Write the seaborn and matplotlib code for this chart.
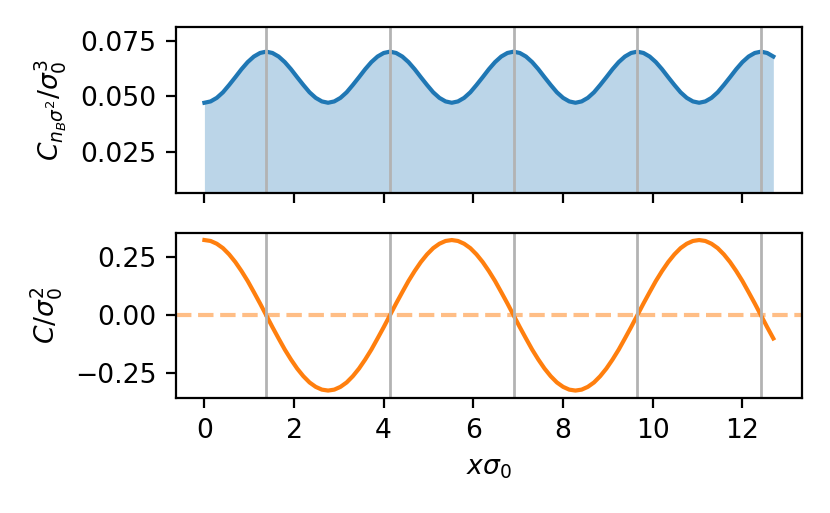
import numpy as np
import pandas as pd
import matplotlib
matplotlib.use("Agg")
import matplotlib.pyplot as plt
import seaborn as sns

# sampled positions (x * sigma_0)
x_vals = [0.0, 0.138, 0.276, 0.414, 0.552, 0.69, 0.828, 0.966, 1.104, 1.242,
          1.38, 1.518, 1.656, 1.794, 1.932, 2.07, 2.208, 2.346, 2.484, 2.622,
          2.76, 2.898, 3.036, 3.174, 3.312, 3.45, 3.588, 3.726, 3.864, 4.002,
          4.14, 4.278, 4.416, 4.554, 4.692, 4.83, 4.968, 5.106, 5.244, 5.382,
          5.52, 5.658, 5.796, 5.934, 6.072, 6.21, 6.348, 6.486, 6.624, 6.762,
          6.9, 7.038, 7.176, 7.314, 7.452, 7.59, 7.728, 7.866, 8.004, 8.142,
          8.28, 8.418, 8.556, 8.694, 8.832, 8.97, 9.108, 9.246, 9.384, 9.522,
          9.66, 9.798, 9.936, 10.074, 10.212, 10.35, 10.488, 10.626, 10.764, 10.902,
          11.04, 11.178, 11.316, 11.454, 11.592, 11.73, 11.868, 12.006, 12.144, 12.282,
          12.42, 12.558, 12.696]

# top panel: C_{n_B sigma^2} / sigma_0^3
c_nb = [0.0470, 0.0476, 0.0492, 0.0517, 0.0550, 0.0585, 0.0621, 0.0653, 0.0678, 0.0694,
        0.0700, 0.0694, 0.0678, 0.0653, 0.0621, 0.0585, 0.0550, 0.0517, 0.0492, 0.0476,
        0.0470, 0.0476, 0.0492, 0.0517, 0.0550, 0.0585, 0.0621, 0.0653, 0.0678, 0.0694,
        0.0700, 0.0694, 0.0678, 0.0653, 0.0621, 0.0585, 0.0550, 0.0517, 0.0492, 0.0476,
        0.0470, 0.0476, 0.0492, 0.0517, 0.0550, 0.0585, 0.0621, 0.0653, 0.0678, 0.0694,
        0.0700, 0.0694, 0.0678, 0.0653, 0.0621, 0.0585, 0.0550, 0.0517, 0.0492, 0.0476,
        0.0470, 0.0476, 0.0492, 0.0517, 0.0550, 0.0585, 0.0621, 0.0653, 0.0678, 0.0694,
        0.0700, 0.0694, 0.0678, 0.0653, 0.0621, 0.0585, 0.0550, 0.0517, 0.0492, 0.0476,
        0.0470, 0.0476, 0.0492, 0.0517, 0.0550, 0.0585, 0.0621, 0.0653, 0.0678, 0.0694,
        0.0700, 0.0694, 0.0678]

# bottom panel: C / sigma_0^2
c_vals = [0.325, 0.321, 0.309, 0.290, 0.263, 0.230, 0.191, 0.148, 0.100, 0.051,
          0.0, -0.051, -0.100, -0.148, -0.191, -0.230, -0.263, -0.290, -0.309, -0.321,
          -0.325, -0.321, -0.309, -0.290, -0.263, -0.230, -0.191, -0.148, -0.100, -0.051,
          0.0, 0.051, 0.100, 0.148, 0.191, 0.230, 0.263, 0.290, 0.309, 0.321,
          0.325, 0.321, 0.309, 0.290, 0.263, 0.230, 0.191, 0.148, 0.100, 0.051,
          0.0, -0.051, -0.100, -0.148, -0.191, -0.230, -0.263, -0.290, -0.309, -0.321,
          -0.325, -0.321, -0.309, -0.290, -0.263, -0.230, -0.191, -0.148, -0.100, -0.051,
          0.0, 0.051, 0.100, 0.148, 0.191, 0.230, 0.263, 0.290, 0.309, 0.321,
          0.325, 0.321, 0.309, 0.290, 0.263, 0.230, 0.191, 0.148, 0.100, 0.051,
          0.0, -0.051, -0.100]

# zero crossings of C (gray markers)
nodes = [1.38, 4.14, 6.9, 9.66, 12.42]

df = pd.DataFrame({"x": x_vals, "cnb": c_nb, "c": c_vals})

plt.rcParams["font.size"] = 9.6
plt.rcParams["font.family"] = ["DejaVu Sans"]

fig, (ax1, ax2) = plt.subplots(2, 1, figsize=(4.15, 2.565), dpi=200, sharex=True)
fig.subplots_adjust(left=0.212, right=0.966, top=0.947, bottom=0.224, hspace=0.24)

# --- top panel ---
sns.lineplot(data=df, x="x", y="cnb", color="C0", ax=ax1)
ax1.fill_between(df["x"], df["cnb"], color="C0", alpha=0.3, linewidth=0)
for xn in nodes:
    ax1.axvline(xn, color="0.7", linewidth=1)
ax1.set_ylim(0.0065, 0.081)
ax1.set_yticks([0.025, 0.050, 0.075])
ax1.set_ylabel(r"$C_{n_B\sigma^2}/\sigma_0^3$")
ax1.set_xlabel("")

# --- bottom panel ---
sns.lineplot(data=df, x="x", y="c", color="C1", ax=ax2)
ax2.axhline(0, color="C1", alpha=0.5, linestyle="--")
for xn in nodes:
    ax2.axvline(xn, color="0.7", linewidth=1)
ax2.set_yticks([-0.25, 0.0, 0.25])
ax2.set_ylabel(r"$C/\sigma_0^2$")
ax2.set_xlabel(r"$x\sigma_0$")

fig.savefig("out.png", dpi=200)
